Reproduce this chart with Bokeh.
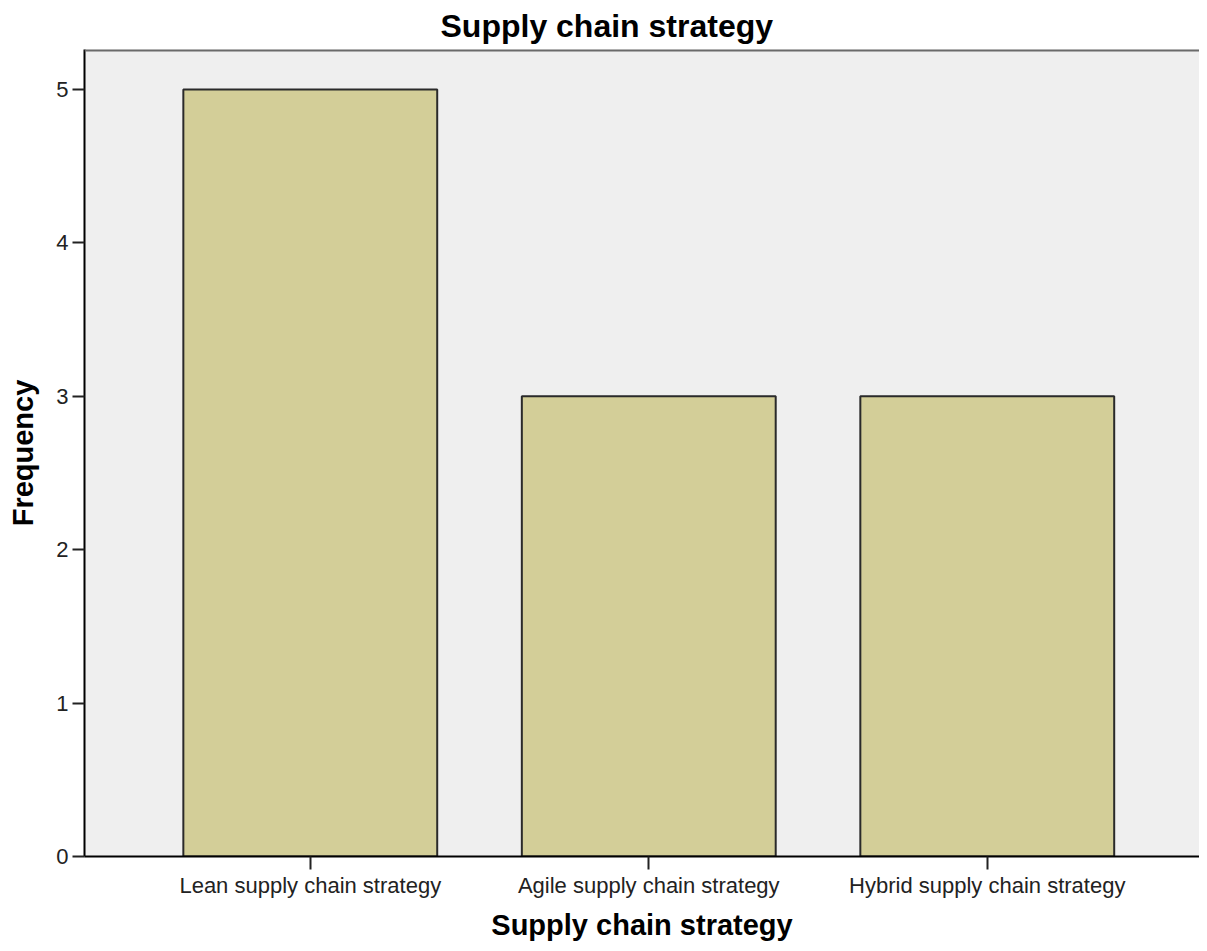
from bokeh.plotting import figure
from bokeh.models import Range1d, FixedTicker, ColumnDataSource, Span
from bokeh.embed import file_html
from bokeh.resources import INLINE

categories = ["Lean supply chain strategy", "Agile supply chain strategy", "Hybrid supply chain strategy"]
frequencies = [5, 3, 3]
y_ticks = [0, 1, 2, 3, 4, 5]

FONT = "Liberation Sans"

# category slots: each category occupies one unit, centred at i + 0.5
positions = [i + 0.5 for i in range(len(categories))]
Y_END = 5.26

src = ColumnDataSource(data=dict(x=positions, freq=frequencies, cat=categories))

p = figure(
    width=1199, height=943,
    x_range=Range1d(-0.167, 3.127),
    y_range=Range1d(0, Y_END),
    output_backend="svg", toolbar_location=None,
    min_border_left=84, min_border_right=0, min_border_top=48, min_border_bottom=85,
    title="Supply chain strategy",
)

p.vbar(x="x", top="freq", bottom=0, width=0.75, source=src,
       fill_color="#D3CE98", line_color="#2a2a2a", line_width=2)

p.background_fill_color = "#EFEFEF"
p.border_fill_color = "white"
p.outline_line_color = None
p.add_layout(Span(location=Y_END, dimension="width", line_color="#6a6a6a", line_width=4))
p.xgrid.visible = False
p.ygrid.visible = False

p.title.text_font = FONT
p.title.text_font_size = "32px"
p.title.text_font_style = "bold"
p.title.text_color = "black"
p.title.align = "left"
p.title.offset = 356
p.title.standoff = 11

for ax in (p.xaxis[0], p.yaxis[0]):
    ax.axis_line_color = "black"
    ax.axis_line_width = 2
    ax.major_tick_line_color = "#222222"
    ax.major_tick_line_width = 2
    ax.major_tick_in = 0
    ax.minor_tick_line_color = None
    ax.major_label_text_font = FONT
    ax.major_label_text_font_size = "22px"
    ax.major_label_text_color = "#222222"
    ax.axis_label_text_font = FONT
    ax.axis_label_text_font_size = "29px"
    ax.axis_label_text_font_style = "bold"
    ax.axis_label_text_color = "black"

p.yaxis[0].ticker = FixedTicker(ticks=y_ticks)
p.yaxis[0].major_tick_out = 12
p.yaxis[0].major_label_standoff = 4
p.yaxis[0].axis_label = "Frequency"
p.yaxis[0].axis_label_standoff = 14

p.xaxis[0].ticker = FixedTicker(ticks=positions)
p.xaxis[0].major_label_overrides = {pos: name for pos, name in zip(positions, categories)}
p.xaxis[0].major_tick_out = 13
p.xaxis[0].major_label_standoff = 3
p.xaxis[0].axis_label = "Supply chain strategy"
p.xaxis[0].axis_label_standoff = 8

open("out.html", "w").write(file_html(p, INLINE))
